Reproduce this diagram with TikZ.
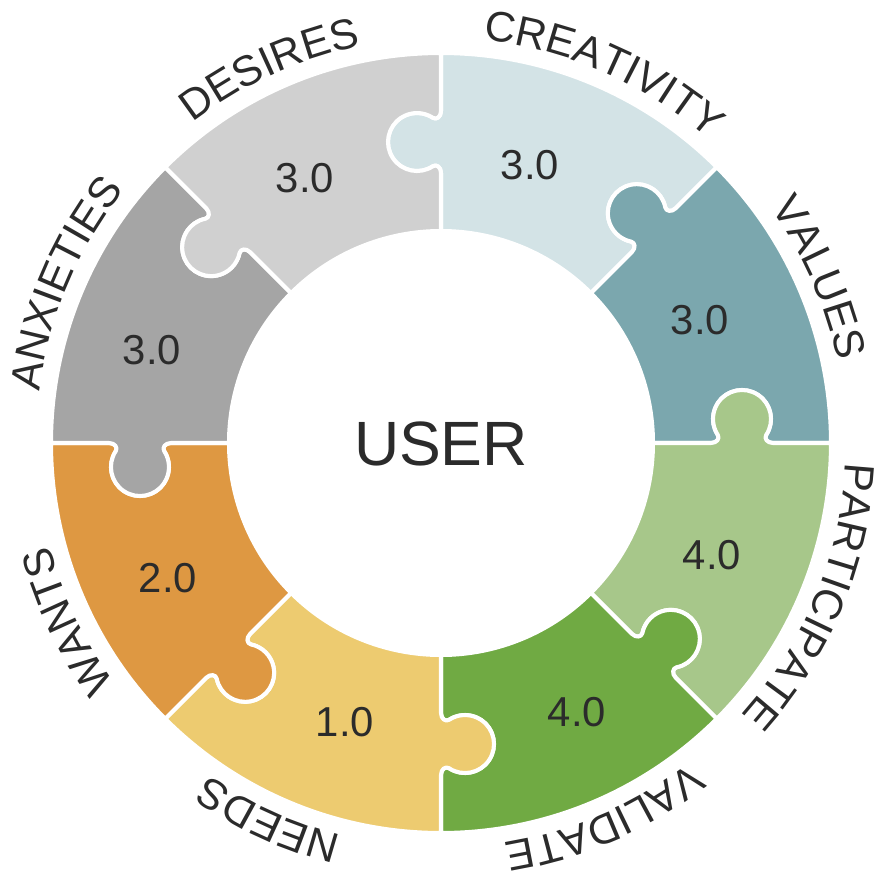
\documentclass[tikz,border=0pt]{standalone}
\usepackage{fontspec}
\setmainfont{Liberation Sans}
\usetikzlibrary{decorations.text}

\definecolor{txt}{HTML}{2B2B2B}
\definecolor{cCreat}{HTML}{D3E3E6}
\definecolor{cValues}{HTML}{7BA7AE}
\definecolor{cPart}{HTML}{A7C78A}
\definecolor{cValid}{HTML}{70AA43}
\definecolor{cNeeds}{HTML}{EDCB70}
\definecolor{cWants}{HTML}{DE9842}
\definecolor{cAnx}{HTML}{A5A5A5}
\definecolor{cDes}{HTML}{D0D0D0}

% ring radii and the radius of the puzzle knobs
\def\rOut{390}
\def\rIn{212}
\def\rMid{301}
\def\rLbl{405}

% one puzzle piece spanning [#1-45, #1] degrees; tab on the #1 edge,
% socket on the #1-45 edge
\newcommand\puzzlepiece[2]{%
  \pgfmathsetmacro\lo{#1-45}%
  \path[piece, fill=#2]
    (\lo:\rOut) arc[start angle=\lo, end angle=#1, radius=\rOut]
    -- ([rotate=#1]\rMid+31,0)
    .. controls ([rotate=#1]\rMid+25,0) and ([rotate=#1]\rMid+22,4.7) .. ([rotate=#1]\rMid+24.2,8)
    arc[start angle=#1-33.5, end angle=#1+213.5, radius=29]
    .. controls ([rotate=#1]\rMid-22,4.7) and ([rotate=#1]\rMid-25,0) .. ([rotate=#1]\rMid-31,0)
    -- (#1:\rIn)
    arc[start angle=#1, end angle=\lo, radius=\rIn]
    -- ([rotate=\lo]\rMid-31,0)
    .. controls ([rotate=\lo]\rMid-25,0) and ([rotate=\lo]\rMid-22,4.7) .. ([rotate=\lo]\rMid-24.2,8)
    arc[start angle=\lo+213.5, end angle=\lo-33.5, radius=29]
    .. controls ([rotate=\lo]\rMid+22,4.7) and ([rotate=\lo]\rMid+25,0) .. ([rotate=\lo]\rMid+31,0)
    -- cycle;}

% curved label on the outside of the ring, centred at angle #1
\newcommand\ringlabel[2]{%
  \pgfmathsetmacro\hi{#1+22.5}%
  \pgfmathsetmacro\lo{#1-22.5}%
  \path[decorate, decoration={text along path, text color=txt,
      text={|\fontsize{12.1}{14}\selectfont|#2}, text align=center}]
    (\hi:\rLbl) arc[start angle=\hi, end angle=\lo, radius=\rLbl];}

\begin{document}
\begin{tikzpicture}[x=0.01cm, y=0.01cm,
    piece/.style={draw=white, line width=1.15pt, line join=round},
    score/.style={text=txt, font=\fontsize{11.9}{14}\selectfont},
    centre/.style={text=txt, font=\fontsize{17.8}{21}\selectfont}]
  \useasboundingbox (-441,-435) rectangle (433,443);

  % pieces, clockwise from the top
  \puzzlepiece{90}{cCreat}
  \puzzlepiece{45}{cValues}
  \puzzlepiece{0}{cPart}
  \puzzlepiece{-45}{cValid}
  \puzzlepiece{-90}{cNeeds}
  \puzzlepiece{-135}{cWants}
  \puzzlepiece{180}{cAnx}
  \puzzlepiece{135}{cDes}

  % scores
  \node[score] (sCreat)  at (89,278)   {3.0};
  \node[score] (sValues) at (259,123)  {3.0};
  \node[score] (sPart)   at (271,-112) {4.0};
  \node[score] (sValid)  at (136,-269) {4.0};
  \node[score] (sNeeds)  at (-96,-279) {1.0};
  \node[score] (sWants)  at (-273,-135){2.0};
  \node[score] (sAnx)    at (-289,93)  {3.0};
  \node[score] (sDes)    at (-136,265) {3.0};

  \node[centre] (user) at (0,-1) {USER};

  % names around the ring
  \ringlabel{66.3}{CREATIVITY}
  \ringlabel{23.6}{VALUES}
  \ringlabel{-22.5}{PARTICIPATE}
  \ringlabel{-66.5}{VALIDATE}
  \ringlabel{-114.6}{NEEDS}
  \ringlabel{-154.5}{WANTS}
  \ringlabel{157}{ANXIETIES}
  \ringlabel{114.6}{DESIRES}
\end{tikzpicture}
\end{document}
